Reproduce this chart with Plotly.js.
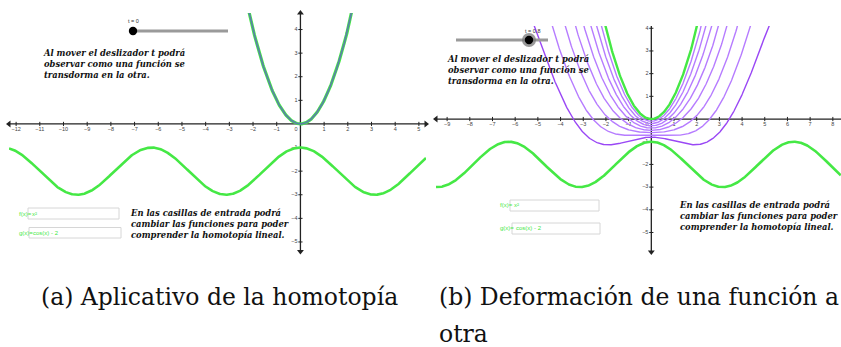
<!DOCTYPE html>
<html>
<head>
<meta charset="utf-8">
<script src="https://cdn.plot.ly/plotly-3.0.1.min.js"></script>
<style>html,body{margin:0;padding:0;background:#fff;}#chart{width:841px;height:347px;}</style>
</head>
<body>
<div id="chart"></div>
<script>
// ---- data ----
const fLabel = "f(x)=";
const gLabel = "g(x)=";
const fText = "x²";
const gText = "cos(x) - 2";
const tLeft = 0;            // slider value, panel (a)
const tRight = 0.8;         // slider value, panel (b)
const tTrace = [0.1, 0.2, 0.3, 0.4, 0.5, 0.6, 0.7, 0.8]; // traced homotopy steps, panel (b)
const xRangeLeft = [-12.3, 5.3];
const yRangeLeft = [-5.4, 4.7];
const xRangeRight = [-9.49, 8.36];
const yRangeRight = [-5.86, 4.1];
const xTicksLeft = [-12,-11,-10,-9,-8,-7,-6,-5,-4,-3,-2,-1,0,1,2,3,4,5];
const yTicksLeft = [-5,-4,-3,-2,-1,1,2,3,4];
const xTicksRight = [-9,-8,-7,-6,-5,-4,-3,-2,-1,0,1,2,3,4,5,6,7,8];
const yTicksRight = [-5,-4,-3,-2,-1,1,2,3,4];
const textTop = "Al mover el deslizador t podrá<br>observar como una función se<br>transdorma en la otra.";
const textBottom = "En las casillas de entrada podrá<br>cambiar las funciones para poder<br>comprender la homotopía lineal.";
const captionA = "(a) Aplicativo de la homotopía";
const captionB1 = "(b) Deformación de una función a";
const captionB2 = "otra";

// functions as typed in the input boxes of the picture
const f = x => x * x;
const g = x => Math.cos(x) - 2;
const H = (x, t) => (1 - t) * f(x) + t * g(x);

function grid(r) { const a = []; for (let x = r[0]; x <= r[1] + 1e-9; x += 0.02) a.push(x); return a; }

const GREEN = "#45e845";
const W = 841, Hh = 347;
const px = x => x / W;
const py = y => 1 - y / Hh;

const traces = [];
function line(xa, ya, xs, fn, color, width) {
  traces.push({x: xs, y: xs.map(fn), xaxis: xa, yaxis: ya, mode: "lines",
    line: {color: color, width: width}, hoverinfo: "skip"});
}
function axes(xa, ya, xr, yr, xt, yt, arrows) {
  const ac = "#222";
  const tf = {family: "Liberation Sans, Arial", size: 5.5, color: "#444"};
  traces.push({x: [xr[0], xr[1]], y: [0, 0], xaxis: xa, yaxis: ya, mode: "lines", line: {color: ac, width: 1.3}});
  traces.push({x: [0, 0], y: [yr[0], yr[1]], xaxis: xa, yaxis: ya, mode: "lines", line: {color: ac, width: 1.3}});
  traces.push({x: xt, y: xt.map(() => 0), xaxis: xa, yaxis: ya, mode: "markers+text",
    marker: {symbol: "line-ns-open", size: 3, color: ac, line: {color: ac, width: 1}},
    text: xt.map(v => v < 0 ? "\u2212" + Math.abs(v) : String(v)),
    textposition: xt.map(v => v === 0 ? "bottom left" : "bottom center"),
    textfont: tf});
  traces.push({x: yt.map(() => 0), y: yt, xaxis: xa, yaxis: ya, mode: "markers+text",
    marker: {symbol: "line-ew-open", size: 3, color: ac, line: {color: ac, width: 1}},
    text: yt.map(v => v < 0 ? "\u2212" + Math.abs(v) : String(v)),
    textposition: "middle left",
    textfont: tf});
  arrows.forEach(a => {
    const pos = {left: [xr[0], 0], right: [xr[1], 0], up: [0, yr[1]], down: [0, yr[0]]}[a];
    traces.push({x: [pos[0]], y: [pos[1]], xaxis: xa, yaxis: ya, mode: "markers",
      marker: {symbol: "triangle-" + a, size: 6, color: ac}, cliponaxis: false});
  });
}

// ---- panel (a) ----
const xsL = grid(xRangeLeft);
axes("x", "y", xRangeLeft, yRangeLeft, xTicksLeft, yTicksLeft, ["left", "right", "up", "down"]);
line("x", "y", xsL, g, GREEN, 2.6);
line("x", "y", xsL, f, GREEN, 3.2);
line("x", "y", xsL, x => H(x, tLeft), "#5a80a8", 1.7);

// ---- panel (b) ----
const xsR = grid(xRangeRight);
axes("x2", "y2", xRangeRight, yRangeRight, xTicksRight, yTicksRight, ["left", "down"]);
tTrace.forEach(t => {
  line("x2", "y2", xsR, x => H(x, t), t === tRight ? "#9a48f5" : "#b67cff", 1.4);
});
line("x2", "y2", xsR, g, GREEN, 2.6);
line("x2", "y2", xsR, f, GREEN, 2.4);

const ax = (dom, rng) => ({domain: dom, range: rng, showgrid: false, zeroline: false, showticklabels: false, showline: false, ticks: "", fixedrange: true});

const itFont = {family: "DejaVu Serif", size: 8.4, color: "#111", style: "italic", weight: "bold"};
const ann = [];
function note(x, y, text, font, xanchor, yanchor) {
  ann.push({xref: "paper", yref: "paper", x: px(x), y: py(y), text: text, showarrow: false,
    xanchor: xanchor || "left", yanchor: yanchor || "middle", align: "left", font: font});
}
const it = s => "<b><i>" + s.split("<br>").join("</i></b><br><b><i>") + "</i></b>";
// panel texts
note(41, 64, it(textTop), itFont);
note(128, 224, it(textBottom), itFont);
note(445, 70, it(textTop), itFont);
note(840, 216.5, it(textBottom), itFont, "right");
// slider labels
const smallFont = {family: "Liberation Sans, Arial", size: 5.5, color: "#333"};
note(133, 20.5, "t = " + tLeft, smallFont, "center");
note(532, 31, "t = " + tRight, smallFont, "center");
// input box labels
const inFont = {family: "Liberation Sans, Arial", size: 6, color: GREEN};
note(17, 214, fLabel, inFont);
note(17, 233, gLabel, inFont);
note(30, 213.5, fText, inFont);
note(31, 232.5, gText, inFont);
note(498, 205.5, fLabel, inFont);
note(498, 228, gLabel, inFont);
note(512, 205, fText, inFont);
note(514, 228, gText, inFont);
// captions
const capFont = {family: "DejaVu Serif", size: 23.5, color: "#111"};
note(219.5, 297, captionA, capFont, "center");
note(437, 297, captionB1, capFont, "left");
note(437, 334, captionB2, capFont, "left");

const shapes = [];
function rect(x0, y0, x1, y1, lc, fc, w) {
  shapes.push({type: "rect", xref: "paper", yref: "paper", x0: px(x0), x1: px(x1), y0: py(y1), y1: py(y0),
    line: {color: lc, width: w}, fillcolor: fc, layer: "above"});
}
function circ(cx, cy, r, fc) {
  shapes.push({type: "circle", xref: "paper", yref: "paper", x0: px(cx - r), x1: px(cx + r), y0: py(cy + r), y1: py(cy - r),
    line: {width: 0}, fillcolor: fc, layer: "above"});
}
function seg(x0, y0, x1, y1, c, w) {
  shapes.push({type: "line", xref: "paper", yref: "paper", x0: px(x0), x1: px(x1), y0: py(y0), y1: py(y1),
    line: {color: c, width: w}, layer: "above"});
}
// input boxes
rect(28, 208, 119, 219, "#d6d6d6", "rgba(255,255,255,0)", 1);
rect(29, 227.5, 121, 238, "#d6d6d6", "rgba(255,255,255,0)", 1);
rect(510, 200, 599, 211, "#d6d6d6", "rgba(255,255,255,0)", 1);
rect(512, 223, 600, 234, "#d6d6d6", "rgba(255,255,255,0)", 1);
// sliders
seg(133, 31, 228, 31, "#9a9a9a", 3);
circ(133, 31, 4.2, "#000");
seg(456, 40, 548, 40, "#9a9a9a", 3);
circ(529, 40, 7, "rgba(120,120,120,0.75)");
circ(529, 40, 4.2, "#000");

const layout = {
  width: W, height: Hh, margin: {l: 0, r: 0, t: 0, b: 0},
  paper_bgcolor: "#fff", plot_bgcolor: "rgba(0,0,0,0)", showlegend: false, hovermode: false,
  xaxis: ax([px(9), px(426)], xRangeLeft),
  yaxis: ax([py(251.4), py(13)], yRangeLeft),
  xaxis2: ax([px(436), 1], xRangeRight),
  yaxis2: ax([py(252), py(26)], yRangeRight),
  annotations: ann, shapes: shapes
};
layout.xaxis2.anchor = "y2"; layout.yaxis2.anchor = "x2";
Plotly.newPlot("chart", traces, layout, {staticPlot: true, displayModeBar: false});
</script>
</body>
</html>
